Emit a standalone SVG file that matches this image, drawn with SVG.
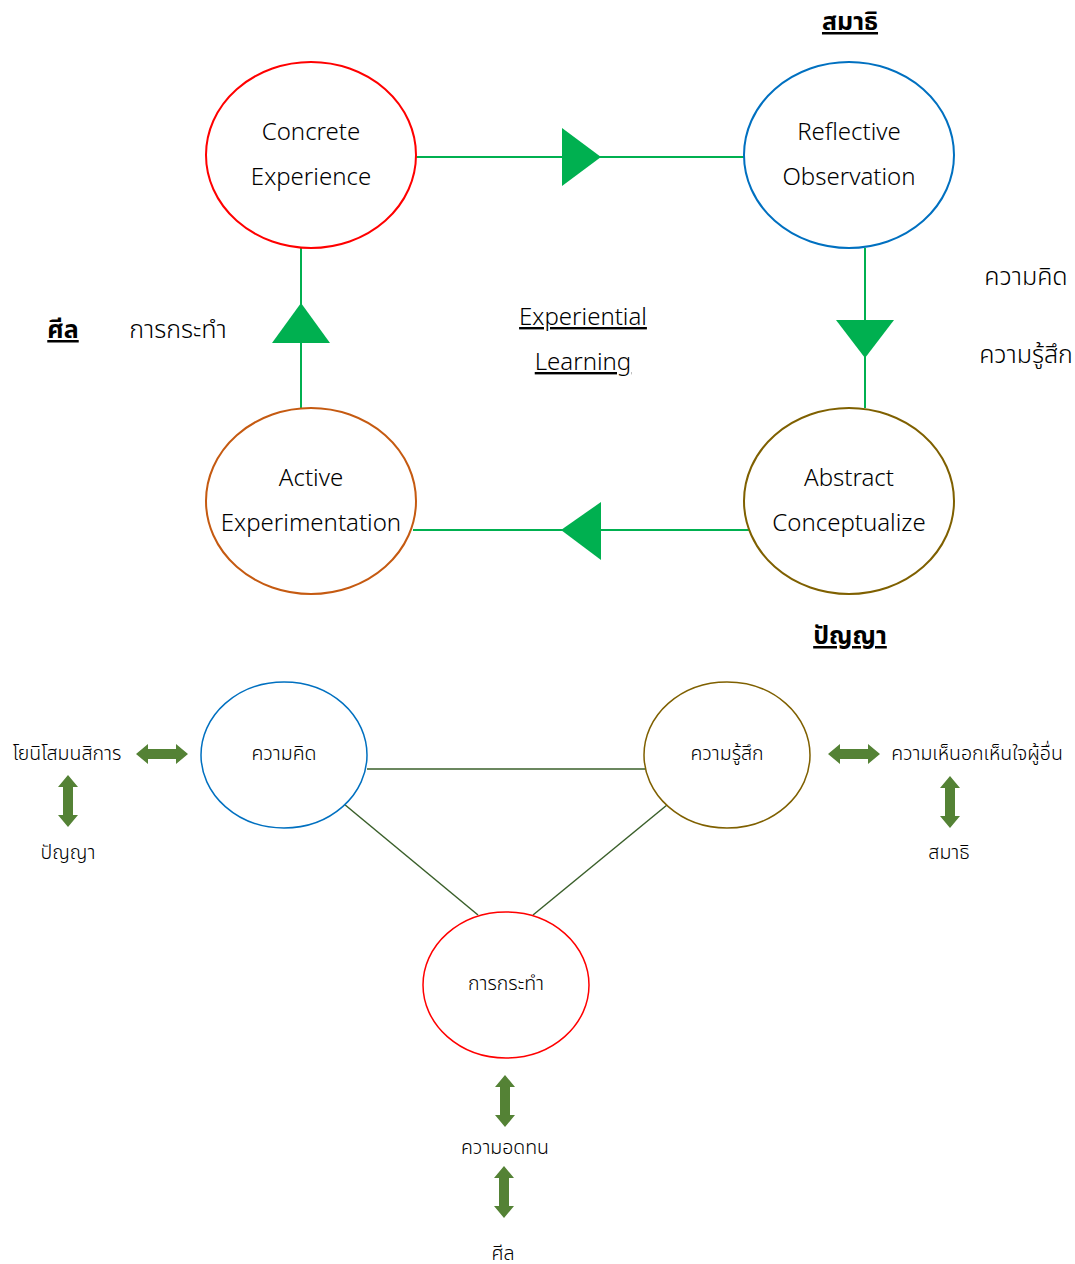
<svg xmlns="http://www.w3.org/2000/svg" width="1075" height="1264" viewBox="0 0 1075 1264">
<style>
  .t { font-family: "Leelawadee UI", "Noto Sans Thai", "Noto Sans", "DejaVu Sans", sans-serif; fill: #000; text-anchor: middle; font-weight: 300; }
  .big { font-size: 24px; }
  .th { font-size: 25px; }
  .sm { font-size: 19.5px; }
  .b { font-weight: bold; text-decoration: underline; }
  .u { text-decoration: underline; }
  .gl { stroke: #00B050; stroke-width: 2; fill: none; }
  .dl { stroke: #3A5F2A; stroke-width: 1.5; fill: none; }
  .tri { fill: #00B050; }
  .da { fill: #548235; }
</style>
<defs>
  <path id="dah" d="M-26,0 L-14,-10 L-14,-5 L14,-5 L14,-10 L26,0 L14,10 L14,5 L-14,5 L-14,10 Z"/>
</defs>
<rect width="1075" height="1264" fill="#fff"/>

<g id="connectors">
  <line class="gl" x1="416" y1="157" x2="744" y2="157"/>
  <polygon class="tri" points="562,128 601,157 562,186"/>
  <line class="gl" x1="865" y1="248" x2="865" y2="408"/>
  <polygon class="tri" points="836,320 894,320 865,358"/>
  <line class="gl" x1="413" y1="530" x2="749" y2="530"/>
  <polygon class="tri" points="601,502 601,560 561,530"/>
  <line class="gl" x1="301" y1="248" x2="301" y2="408"/>
  <polygon class="tri" points="272,343 330,343 301,303"/>

  <line class="dl" x1="367" y1="769" x2="645" y2="769"/>
  <line class="dl" x1="344" y1="804" x2="478" y2="915"/>
  <line class="dl" x1="667" y1="805" x2="533" y2="915"/>

  <use href="#dah" class="da" transform="translate(162,754)"/>
  <use href="#dah" class="da" transform="translate(68,801) rotate(90)"/>
  <use href="#dah" class="da" transform="translate(854,754)"/>
  <use href="#dah" class="da" transform="translate(950,802) rotate(90)"/>
  <use href="#dah" class="da" transform="translate(505,1101) rotate(90)"/>
  <use href="#dah" class="da" transform="translate(504,1192) rotate(90)"/>
</g>

<g id="concrete">
  <ellipse cx="311" cy="155" rx="105" ry="93" fill="#fff" stroke="#FF0000" stroke-width="2"/>
  <text class="t big" x="311" y="140">Concrete</text>
  <text class="t big" x="311" y="185">Experience</text>
</g>
<g id="reflective">
  <ellipse cx="849" cy="155" rx="105" ry="93" fill="#fff" stroke="#0070C0" stroke-width="2"/>
  <text class="t big" x="849" y="140">Reflective</text>
  <text class="t big" x="849" y="185">Observation</text>
</g>
<g id="active">
  <ellipse cx="311" cy="501" rx="105" ry="93" fill="#fff" stroke="#C55A11" stroke-width="2"/>
  <text class="t big" x="311" y="486">Active</text>
  <text class="t big" x="311" y="531">Experimentation</text>
</g>
<g id="abstract">
  <ellipse cx="849" cy="501" rx="105" ry="93" fill="#fff" stroke="#7F6000" stroke-width="2"/>
  <text class="t big" x="849" y="486">Abstract</text>
  <text class="t big" x="849" y="531">Conceptualize</text>
</g>

<g id="labels-top">
  <text class="t th b" x="850" y="30">สมาธิ</text>
  <text class="t th b" x="63" y="338">ศีล</text>
  <text class="t th" x="178" y="338">การกระทำ</text>
  <text class="t big u" x="583" y="325">Experiential</text>
  <text class="t big u" x="583" y="370">Learning</text>
  <text class="t th" x="1026" y="285">ความคิด</text>
  <text class="t th" x="1026" y="363">ความรู้สึก</text>
  <text class="t th b" x="850" y="644">ปัญญา</text>
</g>

<g id="think">
  <ellipse cx="284" cy="755" rx="83" ry="73" fill="#fff" stroke="#0070C0" stroke-width="1.5"/>
  <text class="t sm" x="284" y="760">ความคิด</text>
</g>
<g id="feel">
  <ellipse cx="727" cy="755" rx="83" ry="73" fill="#fff" stroke="#7F6000" stroke-width="1.5"/>
  <text class="t sm" x="727" y="760">ความรู้สึก</text>
</g>
<g id="act">
  <ellipse cx="506" cy="985" rx="83" ry="73" fill="#fff" stroke="#FF0000" stroke-width="1.5"/>
  <text class="t sm" x="506" y="990">การกระทำ</text>
</g>

<g id="labels-bottom">
  <text class="t sm" x="67" y="760">โยนิโสมนสิการ</text>
  <text class="t sm" x="68" y="859">ปัญญา</text>
  <text class="t sm" x="977" y="760">ความเห็นอกเห็นใจผู้อื่น</text>
  <text class="t sm" x="949" y="859">สมาธิ</text>
  <text class="t sm" x="505" y="1154">ความอดทน</text>
  <text class="t sm" x="503" y="1260">ศีล</text>
</g>
</svg>
